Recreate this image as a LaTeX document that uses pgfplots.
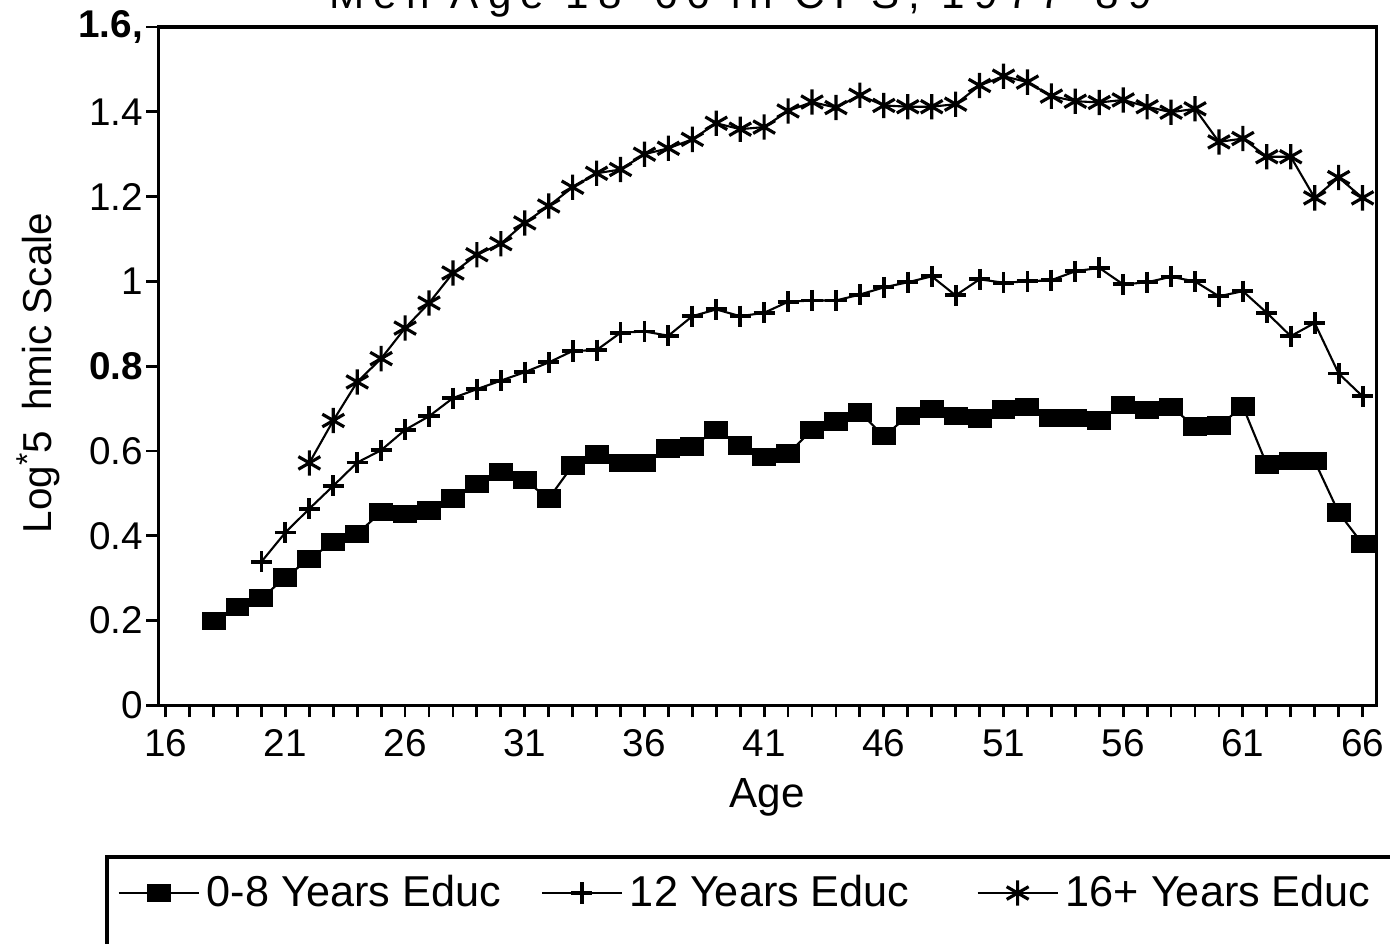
\documentclass[border=0pt]{standalone}
\usepackage{fontspec}
\setmainfont{Liberation Sans}
\usepackage{pgfplots}
\pgfplotsset{compat=1.18}
\begin{document}
\begin{tikzpicture}
\begin{axis}[
  at={(0,0)}, anchor=south west,
  scale only axis, width=12.184cm, height=6.785cm,
  xmin=15.69, xmax=66.59, ymin=0, ymax=1.6,
  axis line style={line width=1pt},
  xtick={16,21,...,66},
  minor x tick num=4,
  ytick={0,0.2,0.4,0.6,0.8,1,1.2,1.4,1.6},
  yticklabels={0,0.2,0.4,0.6,\textbf{0.8},1,1.2,1.4,\textbf{1.6,}},
  tick align=outside, tick pos=left,
  major tick length=0.12cm, minor tick length=0.12cm,
  every tick/.style={black, line width=0.8pt},
  tick label style={font=\fontsize{11}{13}\selectfont},
  yticklabel style={xshift=0.09cm},
  /pgf/number format/assume math mode=true,
  xlabel={Age},
  xlabel style={at={(axis description cs:0.4996,-0.135)}, anchor=center, font=\fontsize{12}{14}\selectfont},
  ylabel={Log\raisebox{0.6ex}{\small *}5\hspace{0.5em}hmic Scale},
  ylabel style={at={(axis description cs:-0.0988,0.49)}, anchor=center, font=\fontsize{11.5}{14}\selectfont},
  title={\addfontfeature{LetterSpace=22}Men Age 18-66 in CPS, 1977-89},
  every axis title/.style={at={(axis description cs:0.478,1)}, anchor=base, yshift=0.18cm, font=\fontsize{12}{14}\selectfont},
  legend image code/.code={\draw[mark repeat=2,mark phase=2,#1] plot coordinates {(0cm,0cm) (0.4cm,0cm) (0.8cm,0cm)};},
  legend style={at={(axis description cs:-0.0339,-0.2764)}, anchor=west, draw=none, fill=none, inner sep=0pt,
    font=\fontsize{12.3}{14}\selectfont, /tikz/every even column/.append style={column sep=0.33cm}},
  legend columns=3, legend cell align=left,
]
\addplot[black, line width=0.6pt, mark=square*, mark size=2.3pt, mark options={xscale=1.35, solid}] coordinates {
(18,0.200) (19,0.232) (20,0.253) (21,0.302) (22,0.346) (23,0.385) (24,0.405) (25,0.456)
(26,0.452) (27,0.460) (28,0.488) (29,0.522) (30,0.550) (31,0.531) (32,0.488) (33,0.566)
(34,0.592) (35,0.572) (36,0.572) (37,0.606) (38,0.611) (39,0.650) (40,0.613) (41,0.586)
(42,0.594) (43,0.650) (44,0.670) (45,0.691) (46,0.635) (47,0.682) (48,0.700) (49,0.682)
(50,0.677) (51,0.698) (52,0.704) (53,0.678) (54,0.678) (55,0.672) (56,0.709) (57,0.696)
(58,0.704) (59,0.658) (60,0.660) (61,0.705) (62,0.568) (63,0.576) (64,0.576) (65,0.455)
(66,0.381)};
\addlegendentry{0-8 Years Educ}
\addplot[black, line width=0.6pt, mark=+, mark size=3pt, mark options={line width=1.1pt, solid}] coordinates {
(20,0.339) (21,0.408) (22,0.464) (23,0.518) (24,0.573) (25,0.602) (26,0.650) (27,0.682)
(28,0.725) (29,0.746) (30,0.766) (31,0.786) (32,0.809) (33,0.836) (34,0.838) (35,0.879)
(36,0.882) (37,0.872) (38,0.918) (39,0.934) (40,0.918) (41,0.926) (42,0.952) (43,0.955)
(44,0.955) (45,0.969) (46,0.986) (47,0.998) (48,1.012) (49,0.967) (50,1.005) (51,0.997)
(52,1.000) (53,1.003) (54,1.024) (55,1.032) (56,0.993) (57,0.998) (58,1.011) (59,1.000)
(60,0.965) (61,0.977) (62,0.926) (63,0.871) (64,0.902) (65,0.783) (66,0.729)};
\addlegendentry{12 Years Educ\rule{0.27cm}{0pt}}
\addplot[black, line width=0.6pt, mark=asterisk, mark size=3.6pt, mark options={line width=0.9pt, solid}] coordinates {
(22,0.572) (23,0.672) (24,0.763) (25,0.818) (26,0.890) (27,0.949) (28,1.020) (29,1.063)
(30,1.089) (31,1.138) (32,1.178) (33,1.222) (34,1.255) (35,1.264) (36,1.300) (37,1.314)
(38,1.335) (39,1.373) (40,1.359) (41,1.364) (42,1.402) (43,1.423) (44,1.410) (45,1.439)
(46,1.415) (47,1.412) (48,1.412) (49,1.418) (50,1.462) (51,1.484) (52,1.470) (53,1.437)
(54,1.425) (55,1.422) (56,1.428) (57,1.412) (58,1.399) (59,1.407) (60,1.329) (61,1.337)
(62,1.294) (63,1.294) (64,1.197) (65,1.245) (66,1.197)};
\addlegendentry{16+ Years Educ}
\end{axis}
\draw[line width=1pt] (-0.513,-3) -- (-0.513,-1.515) -- (13,-1.515);
\pgfresetboundingbox
\path[use as bounding box] (-1.583,-2.385) rectangle (12.317,7.055);
\end{tikzpicture}
\end{document}
